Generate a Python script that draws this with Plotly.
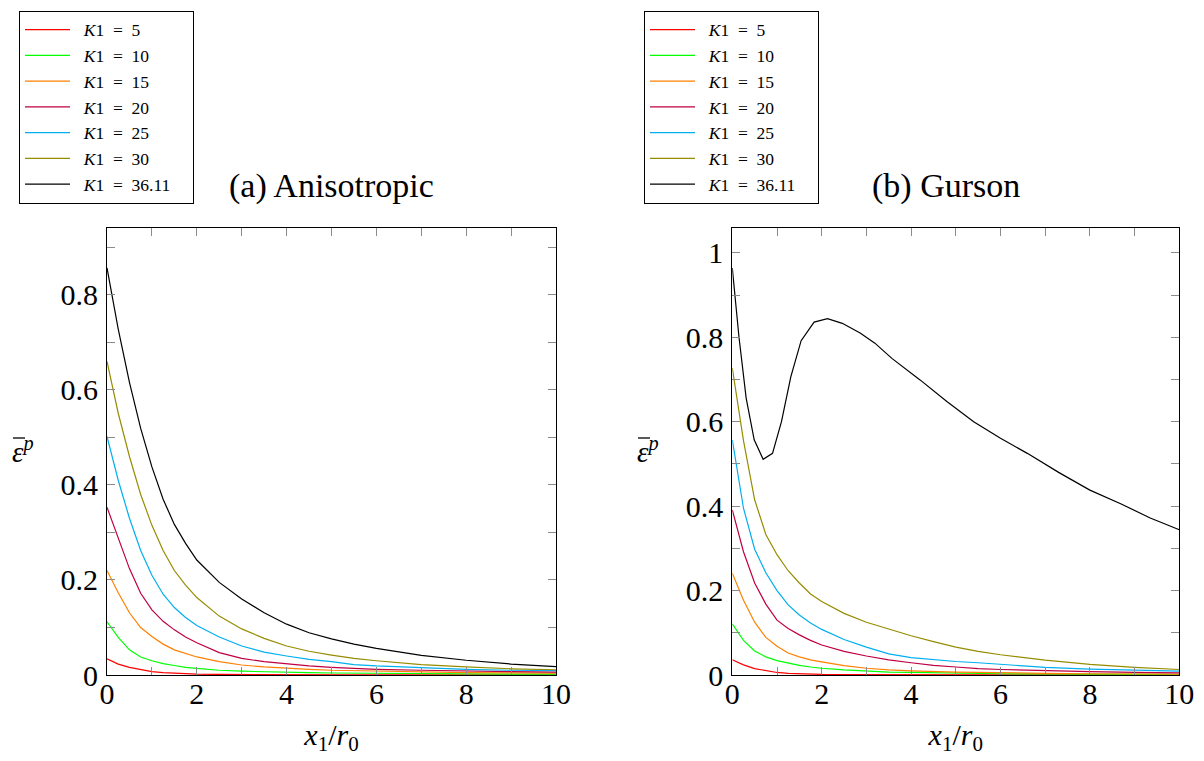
import plotly.graph_objects as go

SERIF = "Liberation Serif"

# Shared sampling positions x1/r0 for the decaying profiles
x_grid = [0, 0.25, 0.5, 0.75, 1, 1.25, 1.5, 1.75, 2, 2.5, 3, 3.5, 4, 4.5, 5, 5.5, 6, 7, 8, 9, 10]

k1_labels = ["5", "10", "15", "20", "25", "30", "36.11"]
k1_colors = ["rgb(255,0,0)", "rgb(0,255,0)", "rgb(255,128,0)", "rgb(191,0,64)",
             "rgb(0,175,240)", "rgb(150,140,0)", "rgb(0,0,0)"]

# (a) Anisotropic model: equivalent plastic strain ahead of the crack tip
aniso_k5 = [0.034, 0.023, 0.016, 0.011, 0.007, 0.005, 0.0035, 0.0025, 0.002, 0.0012, 0.0008,
            0.0006, 0.0005, 0.0004, 0.0003, 0.0003, 0.0002, 0.0002, 0.0001, 0.0001, 0.0001]
aniso_k10 = [0.112, 0.079, 0.053, 0.038, 0.030, 0.024, 0.020, 0.016, 0.014, 0.010, 0.008,
             0.0065, 0.0055, 0.0048, 0.0042, 0.0038, 0.0034, 0.0028, 0.0024, 0.002, 0.0018]
aniso_k15 = [0.220, 0.173, 0.131, 0.100, 0.081, 0.065, 0.053, 0.045, 0.038, 0.028, 0.021,
             0.017, 0.014, 0.012, 0.010, 0.009, 0.008, 0.006, 0.005, 0.0045, 0.004]
aniso_k20 = [0.353, 0.287, 0.224, 0.172, 0.137, 0.113, 0.095, 0.080, 0.068, 0.047, 0.035,
             0.028, 0.023, 0.019, 0.016, 0.014, 0.012, 0.010, 0.008, 0.007, 0.006]
aniso_k25 = [0.502, 0.410, 0.330, 0.262, 0.210, 0.170, 0.142, 0.121, 0.104, 0.080, 0.061,
             0.048, 0.040, 0.033, 0.028, 0.022, 0.019, 0.015, 0.012, 0.010, 0.009]
aniso_k30 = [0.660, 0.551, 0.460, 0.380, 0.315, 0.262, 0.220, 0.189, 0.163, 0.124, 0.097,
             0.077, 0.061, 0.050, 0.042, 0.035, 0.030, 0.022, 0.017, 0.013, 0.011]
aniso_k36 = [0.857, 0.728, 0.616, 0.519, 0.438, 0.370, 0.317, 0.277, 0.242, 0.195, 0.160,
             0.131, 0.107, 0.089, 0.076, 0.065, 0.056, 0.0415, 0.031, 0.023, 0.0175]

# (b) Gurson model
gurson_k5 = [0.036, 0.024, 0.015, 0.010, 0.006, 0.004, 0.003, 0.002, 0.0015, 0.001, 0.0007,
             0.0005, 0.0004, 0.0003, 0.0003, 0.0002, 0.0002, 0.0001, 0.0001, 0.0001, 0.0001]
gurson_k10 = [0.121, 0.082, 0.057, 0.043, 0.034, 0.028, 0.023, 0.019, 0.016, 0.012, 0.009,
              0.007, 0.006, 0.005, 0.004, 0.0035, 0.003, 0.0025, 0.002, 0.0015, 0.001]
gurson_k15 = [0.241, 0.177, 0.125, 0.089, 0.068, 0.052, 0.043, 0.036, 0.031, 0.022, 0.016,
              0.012, 0.010, 0.008, 0.007, 0.006, 0.005, 0.004, 0.003, 0.003, 0.002]
gurson_k20 = [0.391, 0.292, 0.218, 0.168, 0.130, 0.110, 0.095, 0.082, 0.071, 0.056, 0.045,
              0.036, 0.029, 0.023, 0.019, 0.015, 0.013, 0.010, 0.008, 0.006, 0.005]
gurson_k25 = [0.557, 0.395, 0.298, 0.242, 0.200, 0.166, 0.142, 0.123, 0.108, 0.084, 0.066,
              0.050, 0.041, 0.036, 0.032, 0.029, 0.025, 0.018, 0.014, 0.011, 0.009]
gurson_k30 = [0.727, 0.555, 0.415, 0.333, 0.285, 0.247, 0.218, 0.192, 0.174, 0.146, 0.125,
              0.109, 0.093, 0.079, 0.066, 0.056, 0.048, 0.035, 0.025, 0.018, 0.013]
# K1 = 36.11 under Gurson has its own (finer) sampling around the strain dip
gurson_k36_x = [0, 0.15, 0.31, 0.49, 0.69, 0.90, 1.10, 1.31, 1.54, 1.83, 2.13, 2.46, 2.86,
                3.19, 3.57, 4.2, 4.8, 5.4, 6.0, 6.6, 7.3, 8.0, 8.7, 9.35, 10]
gurson_k36 = [0.964, 0.800, 0.656, 0.557, 0.511, 0.525, 0.600, 0.707, 0.792, 0.836, 0.844,
              0.833, 0.810, 0.786, 0.750, 0.699, 0.648, 0.600, 0.561, 0.525, 0.480, 0.438,
              0.405, 0.372, 0.344]

aniso_series = [aniso_k5, aniso_k10, aniso_k15, aniso_k20, aniso_k25, aniso_k30, aniso_k36]
gurson_series = [gurson_k5, gurson_k10, gurson_k15, gurson_k20, gurson_k25, gurson_k30, gurson_k36]
gurson_x = [x_grid] * 6 + [gurson_k36_x]

fig = go.Figure()

EN = "&#8194;"


def entry_name(lab):
    # math-style spacing around "=" in the legend entries
    return f"{EN}<i>K</i>1{EN}={EN}{lab}{EN}{EN}"


for i, (lab, col, ys) in enumerate(zip(k1_labels, k1_colors, aniso_series)):
    fig.add_trace(go.Scatter(
        x=x_grid, y=ys, mode="lines", line=dict(color=col, width=1.2),
        name=entry_name(lab), legend="legend", legendgroup=f"a{i}",
        xaxis="x", yaxis="y", hoverinfo="skip"))

for i, (lab, col, xs, ys) in enumerate(zip(k1_labels, k1_colors, gurson_x, gurson_series)):
    fig.add_trace(go.Scatter(
        x=xs, y=ys, mode="lines", line=dict(color=col, width=1.2),
        name=entry_name(lab), legend="legend2", legendgroup=f"b{i}",
        xaxis="x2", yaxis="y2", hoverinfo="skip"))

W, H = 1204, 761
tick_grey = "#8a8a8a"
Y_BOT, Y_TOP = 675, 227.5


def xaxis_cfg(d0, d1, anchor):
    return dict(
        domain=[d0, d1], anchor=anchor, range=[0, 10], tick0=0, dtick=2, automargin=False,
        showline=True, linecolor="black", linewidth=1.2, mirror="ticks",
        ticks="inside", ticklen=8, tickwidth=1, tickcolor=tick_grey, ticklabelstandoff=-8,
        minor=dict(dtick=1, ticks="inside", ticklen=8, tickwidth=1, tickcolor=tick_grey, showgrid=False),
        showgrid=False, zeroline=False,
        tickfont=dict(family=SERIF, size=30, color="black"),
        title=dict(text="<i>x</i><sub>1</sub>/<i>r</i><sub>0</sub>", standoff=14,
                   font=dict(family=SERIF, size=30, color="black")),
    )


def yaxis_cfg(ymax, anchor):
    return dict(
        domain=[1 - Y_BOT / H, 1 - Y_TOP / H], anchor=anchor, range=[0, ymax], tick0=0, dtick=0.2,
        automargin=False, showline=True, linecolor="black", linewidth=1.2, mirror="ticks",
        ticks="inside", ticklen=8, tickwidth=1, tickcolor=tick_grey, ticklabelstandoff=2,
        minor=dict(dtick=0.1, ticks="inside", ticklen=8, tickwidth=1, tickcolor=tick_grey, showgrid=False),
        showgrid=False, zeroline=False,
        tickfont=dict(family=SERIF, size=30, color="black"),
    )


legend_common = dict(
    xanchor="left", yanchor="top", bgcolor="white", bordercolor="black", borderwidth=1,
    font=dict(family=SERIF, size=17.5, color="black"), tracegroupgap=0, itemwidth=45,
)


def ylabel(x_px):
    return dict(text="<i>ε</i><sup><i>p</i></sup>", x=x_px / W, y=1 - 450 / H,
                xref="paper", yref="paper", xanchor="left", yanchor="middle",
                showarrow=False, font=dict(family=SERIF, size=29, color="black"))


def ybar(x_px):
    # macron over the epsilon
    return dict(type="line", xref="paper", yref="paper",
                x0=(x_px + 3) / W, x1=(x_px + 15) / W, y0=1 - 438 / H, y1=1 - 438 / H,
                line=dict(color="black", width=1.3))


fig.update_layout(
    width=W, height=H, margin=dict(l=0, r=0, t=0, b=0),
    paper_bgcolor="white", plot_bgcolor="white",
    xaxis=xaxis_cfg(107 / W, 556 / W, "y"),
    yaxis=yaxis_cfg(0.942, "x"),
    xaxis2=xaxis_cfg(732.3 / W, 1179.3 / W, "y2"),
    yaxis2=yaxis_cfg(1.060, "x2"),
    legend=dict(x=19 / W, y=1 - 10.7 / H, **legend_common),
    legend2=dict(x=644 / W, y=1 - 10.7 / H, **legend_common),
    annotations=[
        dict(text="(a) Anisotropic", x=331 / W, y=1 - 186 / H, xref="paper", yref="paper",
             xanchor="center", yanchor="middle",
             showarrow=False, font=dict(family=SERIF, size=34, color="black")),
        dict(text="(b) Gurson", x=946 / W, y=1 - 186 / H, xref="paper", yref="paper",
             xanchor="center", yanchor="middle",
             showarrow=False, font=dict(family=SERIF, size=34, color="black")),
        ylabel(10),
        ylabel(635),
    ],
    shapes=[ybar(10), ybar(635)],
)

fig.write_html("out.html")
